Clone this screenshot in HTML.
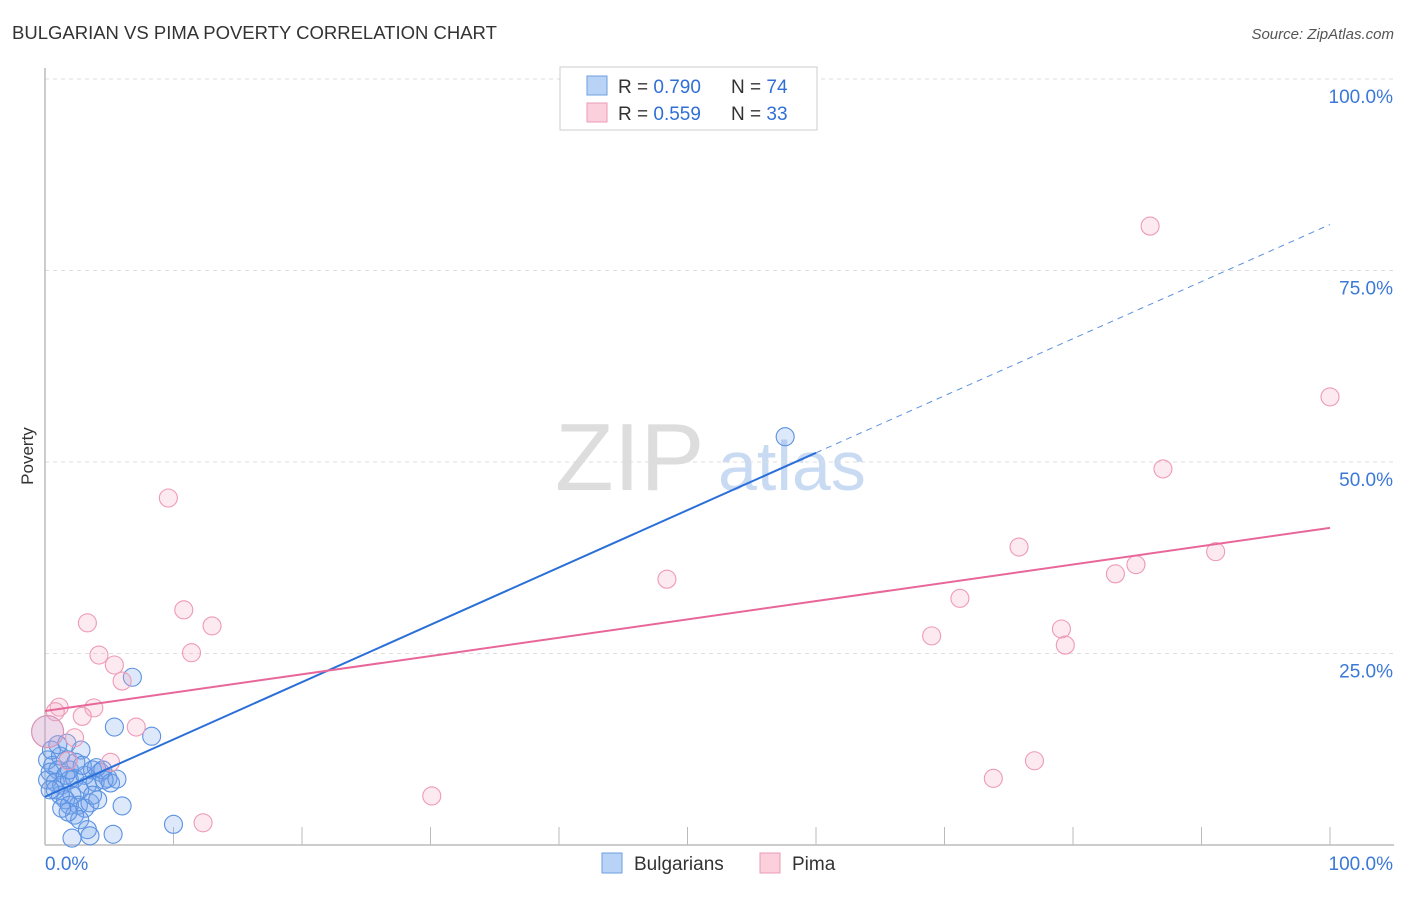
<!DOCTYPE html>
<html><head><meta charset="utf-8"><style>
body{margin:0;background:#fff;font-family:"Liberation Sans",sans-serif}
svg text{font-family:"Liberation Sans",sans-serif}
</style></head><body>
<svg id="c" width="1406" height="892" xmlns="http://www.w3.org/2000/svg">
<text x="12" y="39" font-size="18.5" fill="#333">BULGARIAN VS PIMA POVERTY CORRELATION CHART</text>
<text x="1394" y="39" font-size="15" fill="#555" font-style="italic" text-anchor="end">Source: ZipAtlas.com</text>
<text x="33" y="456" font-size="17" fill="#333" transform="rotate(-90 33 456)" text-anchor="middle">Poverty</text>
<text x="555" y="490" font-size="96" fill="#ddd" font-family="Liberation Serif">ZIP</text>
<text x="718" y="490" font-size="70" fill="#c9daf3">atlas</text>
<g id="grid"></g>
<g id="pts"></g>
<g id="lines"></g>
<g>
<rect x="560" y="67" width="257" height="63" fill="#fff" stroke="#ccc"/>
<rect x="587" y="76" width="20" height="19" fill="#b8d3f5" stroke="#6d9fe0"/>
<rect x="587" y="103" width="20" height="19" fill="#fbd0dc" stroke="#eb9ab3"/>
<text x="618" y="93" font-size="19" fill="#333">R = <tspan fill="#2f6fd6">0.790</tspan><tspan x="731">N = </tspan><tspan fill="#2f6fd6">74</tspan></text>
<text x="618" y="120" font-size="19" fill="#333">R = <tspan fill="#2f6fd6">0.559</tspan><tspan x="731">N = </tspan><tspan fill="#2f6fd6">33</tspan></text>
</g>
<g>
<rect x="602" y="853" width="20" height="20" fill="#b8d3f5" stroke="#6d9fe0"/>
<text x="634" y="870" font-size="19" fill="#333">Bulgarians</text>
<rect x="760" y="853" width="20" height="20" fill="#fbd0dc" stroke="#eb9ab3"/>
<text x="792" y="870" font-size="19" fill="#333">Pima</text>
</g>
<text x="45" y="870" font-size="19" fill="#3b78d8">0.0%</text>
<text x="1393" y="870" font-size="19" fill="#3b78d8" text-anchor="end">100.0%</text>
</svg>
<script>
const yTicks=[25,50,75,100];
const yTickLabels=["25.0%","50.0%","75.0%","100.0%"];
const xTicks=[0,10,20,30,40,50,60,70,80,90,100];
const bulgX=[57.6,6.8,5.4,8.3,6.0,10.0,5.3,1.7,2.8,0.2,0.6,0.4,1.0,1.6,0.2,0.8,1.3,1.9,2.3,3.1,3.7,4.3,4.9,3.9,3.3,2.7,2.1,1.6,1.2,0.8,0.4,2.6,3.1,3.5,1.9,2.3,2.7,1.8,3.3,3.5,2.1,4.0,4.5,1.8,1.2,0.5,1.0,1.9,2.4,2.9,5.1,4.6,3.7,1.3,4.1,5.6];
const bulgY=[53.3,21.9,15.4,14.2,5.1,2.7,1.4,13.3,12.4,11.1,10.4,9.5,9.8,9.1,8.5,8.2,7.8,8.5,8.7,9.1,9.8,9.5,8.7,8.2,7.8,7.2,6.5,5.9,6.5,7.2,7.2,5.2,4.8,5.5,5.2,3.9,3.3,4.3,2.0,1.2,0.9,10.1,9.8,11.1,11.6,12.4,13.1,9.8,10.8,10.4,8.1,8.5,6.5,4.8,5.9,8.6];
const pimaX=[86.0,100,87.0,9.6,75.8,91.1,48.4,84.9,83.3,71.2,10.8,3.3,13.0,69.0,79.1,79.4,4.2,11.4,5.4,6.0,1.1,3.8,2.9,0.8,7.1,2.3,5.1,77.0,73.8,30.1,12.3,1.8];
const pimaY=[80.8,58.5,49.1,45.3,38.9,38.3,34.7,36.6,35.4,32.2,30.7,29.0,28.6,27.3,28.2,26.1,24.8,25.1,23.5,21.4,18.0,17.9,16.8,17.4,15.4,14.0,10.8,11.0,8.7,6.4,2.9,11.0];
const bigPimaX=[0.2], bigPimaY=[14.8];
const bulgTrend=[[0,6.3],[60,51.2],[100,81.0]];
const pimaTrend=[[0,17.5],[100,41.4]];
const X0=45,X1=1330,Y0=845,Y1=79;
const sx=v=>X0+(X1-X0)*v/100, sy=v=>Y0-(Y0-Y1)*v/100;
const NS="http://www.w3.org/2000/svg";
function mk(tag,attrs,parent){const e=document.createElementNS(NS,tag);for(const k in attrs)e.setAttribute(k,attrs[k]);parent.appendChild(e);return e;}
const grid=document.getElementById('grid');
yTicks.forEach((t,i)=>{
 const l=mk('line',{x1:X0,x2:1394,y1:sy(t),y2:sy(t),stroke:'#ddd','stroke-dasharray':'4,4'},grid);
 
 
 const tx=mk('text',{x:1393,y:sy(t)+24,'font-size':19,fill:'#3b78d8','text-anchor':'end'},grid);
 tx.textContent=yTickLabels[i];
 
 
});
const ax=mk('line',{x1:X0,x2:1394,y1:Y0,y2:Y0,stroke:'#bbb','stroke-width':1.5},grid);


const ay=mk('line',{x1:X0,x2:X0,y1:68,y2:Y0,stroke:'#bbb','stroke-width':1.5},grid);


xTicks.forEach(t=>{
 if(t===0)return;
 const l=mk('line',{x1:sx(t),x2:sx(t),y1:Y0-18,y2:Y0,stroke:'#bbb'},grid);
 
 
});
const pts=document.getElementById('pts');
bulgX.forEach((x,i)=>{
 const c=mk('circle',{cx:sx(x),cy:sy(bulgY[i]),r:9,fill:'rgba(120,165,235,0.25)',stroke:'#5a92e2','stroke-width':1.1},pts);
 
 
});
pimaX.forEach((x,i)=>{
 const c=mk('circle',{cx:sx(x),cy:sy(pimaY[i]),r:9,fill:'rgba(245,170,195,0.25)',stroke:'#ee9ab6','stroke-width':1.1},pts);
 
 
});
bigPimaX.forEach((x,i)=>{
 const c=mk('circle',{cx:sx(x),cy:sy(bigPimaY[i]),r:16,fill:'rgba(210,160,200,0.4)',stroke:'#d994b8','stroke-width':1.2},pts);
 
 
});
const lines=document.getElementById('lines');
const b1=mk('line',{x1:sx(bulgTrend[0][0]),y1:sy(bulgTrend[0][1]),x2:sx(bulgTrend[1][0]),y2:sy(bulgTrend[1][1]),stroke:'#2a6fd8','stroke-width':2},lines);


const b2=mk('line',{x1:sx(bulgTrend[1][0]),y1:sy(bulgTrend[1][1]),x2:sx(bulgTrend[2][0]),y2:sy(bulgTrend[2][1]),stroke:'#5a90e0','stroke-width':1,'stroke-dasharray':'6,5'},lines);


const p1=mk('line',{x1:sx(pimaTrend[0][0]),y1:sy(pimaTrend[0][1]),x2:sx(pimaTrend[1][0]),y2:sy(pimaTrend[1][1]),stroke:'#e8679a','stroke-width':2},lines);


</script>
</body></html>
